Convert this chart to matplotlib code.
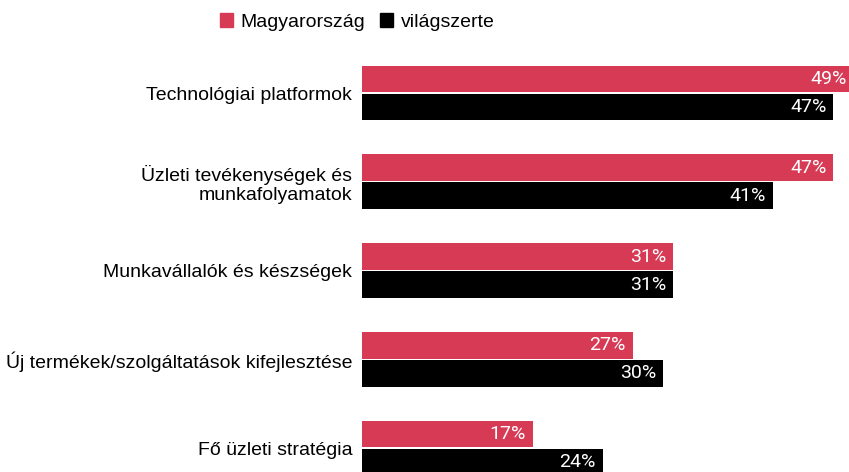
import matplotlib.pyplot as plt
import numpy as np

categories = ['Technológiai platformok',
              'Üzleti tevékenységek és\nmunkafolyamatok',
              'Munkavállalók és készségek',
              'Új termékek/szolgáltatások kifejlesztése',
              'Fő üzleti stratégia']
hungary = [49, 47, 31, 27, 17]
world = [47, 41, 31, 30, 24]
series_names = ['Magyarország', 'világszerte']

red = '#d73a54'
black = '#000000'

fig = plt.figure(figsize=(8.49, 4.72), dpi=100)
ax = fig.add_axes([362 / 849, 0, 487 / 849, 1])

y = np.arange(len(categories))
h = 0.30
off = 0.158
ax.barh(y - off, hungary, height=h, color=red)
ax.barh(y + off, world, height=h, color=black)

ax.set_xlim(0, 48.55)
ax.set_ylim(4.27, -1.048)

# value labels inside bar ends
for vals, dy in ((hungary, -off), (world, off)):
    for yi, v in zip(y, vals):
        ax.annotate(f'{v}%', (v, yi + dy), xytext=(-7, 0), textcoords='offset pixels',
                    ha='right', va='center', color='white', fontsize=14,
                    family='Roboto', annotation_clip=False)

ax.set_yticks(y)
ax.set_yticklabels(categories, fontsize=14, family='Liberation Sans', linespacing=1.1)
ax.tick_params(axis='y', length=0, pad=7)
ax.set_xticks([])
for s in ax.spines.values():
    s.set_visible(False)

# legend
handles = [plt.Rectangle((0, 0), 1, 1, color=red), plt.Rectangle((0, 0), 1, 1, color=black)]
fig.legend(handles, series_names, loc='center', bbox_to_anchor=(357 / 849, 1 - 22 / 472),
           ncol=2, frameon=False, handlelength=0.67, handleheight=0.67, handletextpad=0.4,
           columnspacing=0.75, prop={'family': 'Liberation Sans', 'size': 14})

fig.savefig('out.png', dpi=100)
